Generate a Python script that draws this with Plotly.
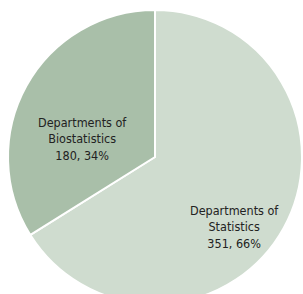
import plotly.graph_objects as go

labels = ["Departments of<br>Statistics", "Departments of<br>Biostatistics"]
values = [351, 180]
percents = ["66%", "34%"]
colors = ["#cfdccf", "#a9bfa9"]
label_pos = [(234.5, 226.5), (82, 139)]  # pixel centers of text blocks

W, H = 303, 314
cx, cy, r = 155, 157, 147

fig = go.Figure(go.Pie(
    labels=labels,
    values=values,
    sort=False,
    direction="clockwise",
    rotation=0,
    marker=dict(colors=colors, line=dict(color="white", width=2)),
    textinfo="none",
    showlegend=False,
    hoverinfo="skip",
    domain=dict(x=[(cx - r) / W, (cx + r) / W], y=[1 - (cy + r) / H, 1 - (cy - r) / H]),
))
for lab, val, pct, (px, py) in zip(labels, values, percents, label_pos):
    fig.add_annotation(
        x=px / W, y=1 - py / H, xref="paper", yref="paper",
        xanchor="center", yanchor="middle", showarrow=False,
        text=f"{lab}<br>{val}, {pct}",
        font=dict(family="DejaVu Sans Condensed, DejaVu Sans", size=12.5, color="#222222"),
    )
fig.update_layout(
    width=W, height=H,
    margin=dict(l=0, r=0, t=0, b=0),
    paper_bgcolor="white",
    plot_bgcolor="white",
)
fig.write_html("out.html", config={"displayModeBar": False},
               post_script="document.body.style.overflow='hidden';document.documentElement.style.overflow='hidden';document.body.style.margin='0';")
